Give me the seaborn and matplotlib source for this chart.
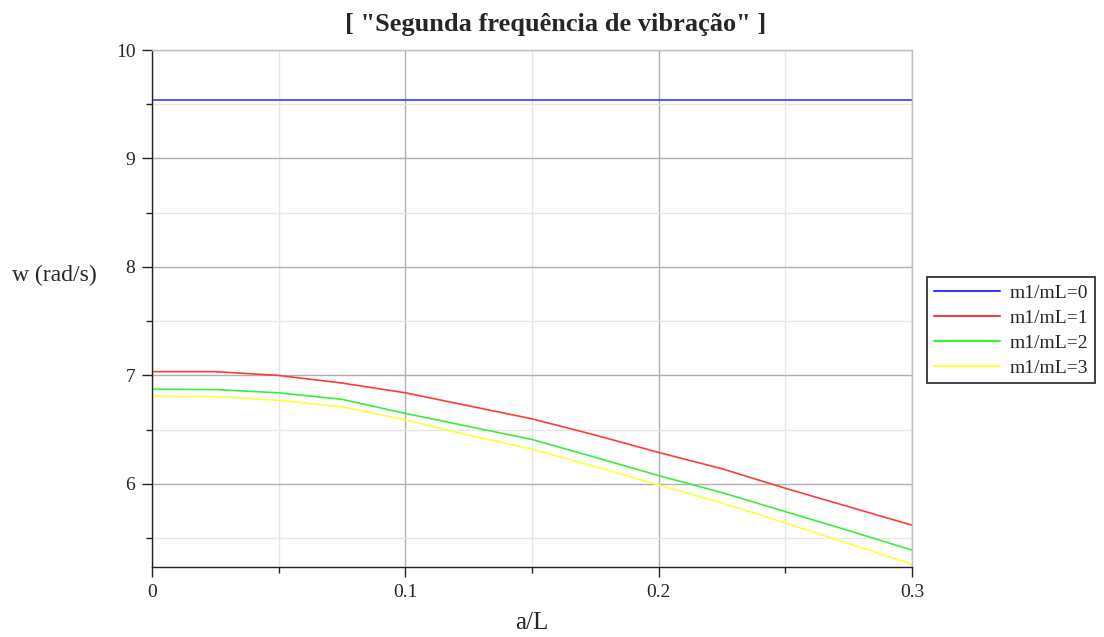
import matplotlib
matplotlib.use("Agg")
import matplotlib.pyplot as plt
from matplotlib.ticker import MultipleLocator, FuncFormatter
from matplotlib.lines import Line2D
import seaborn as sns
import pandas as pd

x = [0.0, 0.025, 0.05, 0.075, 0.1, 0.125, 0.15, 0.175, 0.2, 0.225, 0.25, 0.275, 0.3]
w0 = [9.54] * 13
w1 = [7.035, 7.035, 7.00, 6.93, 6.84, 6.72, 6.60, 6.45, 6.29, 6.14, 5.96, 5.79, 5.62]
w2 = [6.873, 6.87, 6.84, 6.78, 6.65, 6.53, 6.41, 6.245, 6.077, 5.92, 5.745, 5.57, 5.39]
w3 = [6.81, 6.805, 6.77, 6.71, 6.59, 6.45, 6.32, 6.16, 5.99, 5.825, 5.64, 5.45, 5.26]
labels = ["m1/mL=0", "m1/mL=1", "m1/mL=2", "m1/mL=3"]
colors = ["#3a3aff", "#ff3a3a", "#3aee3a", "#ffff3a"]

frames = []
for lab, ys in zip(labels, [w0, w1, w2, w3]):
    frames.append(pd.DataFrame({"a/L": x, "w": ys, "serie": lab}))
df = pd.concat(frames, ignore_index=True)

sns.set_style("white")
plt.rcParams["font.family"] = ["Liberation Serif", "DejaVu Serif"]

fig = plt.figure(figsize=(11.04, 6.37), dpi=100)
ax = fig.add_axes([0.1377, 0.110, 0.6884, 0.8115])

sns.lineplot(data=df, x="a/L", y="w", hue="serie", palette=colors,
             hue_order=labels, linewidth=1.2, ax=ax, legend=False)

ax.set_xlim(0, 0.3)
ax.set_ylim(5.235, 10)
ax.xaxis.set_major_locator(MultipleLocator(0.1))
ax.xaxis.set_minor_locator(MultipleLocator(0.05))
ax.yaxis.set_major_locator(MultipleLocator(1))
ax.yaxis.set_minor_locator(MultipleLocator(0.5))
ax.xaxis.set_major_formatter(FuncFormatter(lambda v, p: "0" if abs(v) < 1e-9 else f"{v:.1f}"))
ax.yaxis.set_major_formatter(FuncFormatter(lambda v, p: f"{v:.0f}"))

ax.grid(which="major", color="#b0b0b0", linewidth=1.0)
ax.grid(which="minor", color="#e6e6e6", linewidth=1.0)
ax.set_axisbelow(True)

for s in ["top", "right"]:
    ax.spines[s].set_color("#c0c0c0")
    ax.spines[s].set_linewidth(1.0)
for s in ["left", "bottom"]:
    ax.spines[s].set_color("#222222")
    ax.spines[s].set_linewidth(1.0)

ax.tick_params(which="major", direction="out", length=7, width=1, color="#222222",
               labelsize=14, pad=5, left=True, bottom=True)
ax.tick_params(which="minor", direction="out", length=4, width=1, color="#222222",
               left=True, bottom=True)

ax.set_xlabel("a/L", fontsize=18, labelpad=8)
ax.set_ylabel("w (rad/s)", fontsize=17, rotation=0, labelpad=0, va="center", ha="center")
ax.yaxis.set_label_coords(-0.128, 0.563)

fig.text(0.503, 0.962, '[ "Segunda frequência de vibração" ]', fontsize=19,
         fontweight="bold", ha="center", va="center")

handles = [Line2D([], [], color=c, linewidth=1.5) for c in colors]
leg = fig.legend(handles, labels, loc="upper left", bbox_to_anchor=(0.840, 0.565),
                 fontsize=14, frameon=True, fancybox=False, edgecolor="black",
                 handlelength=3.4, handletextpad=0.5, borderpad=0.35, labelspacing=0.38,
                 borderaxespad=0)
leg.get_frame().set_linewidth(1.3)

fig.savefig("out.png", dpi=100)
